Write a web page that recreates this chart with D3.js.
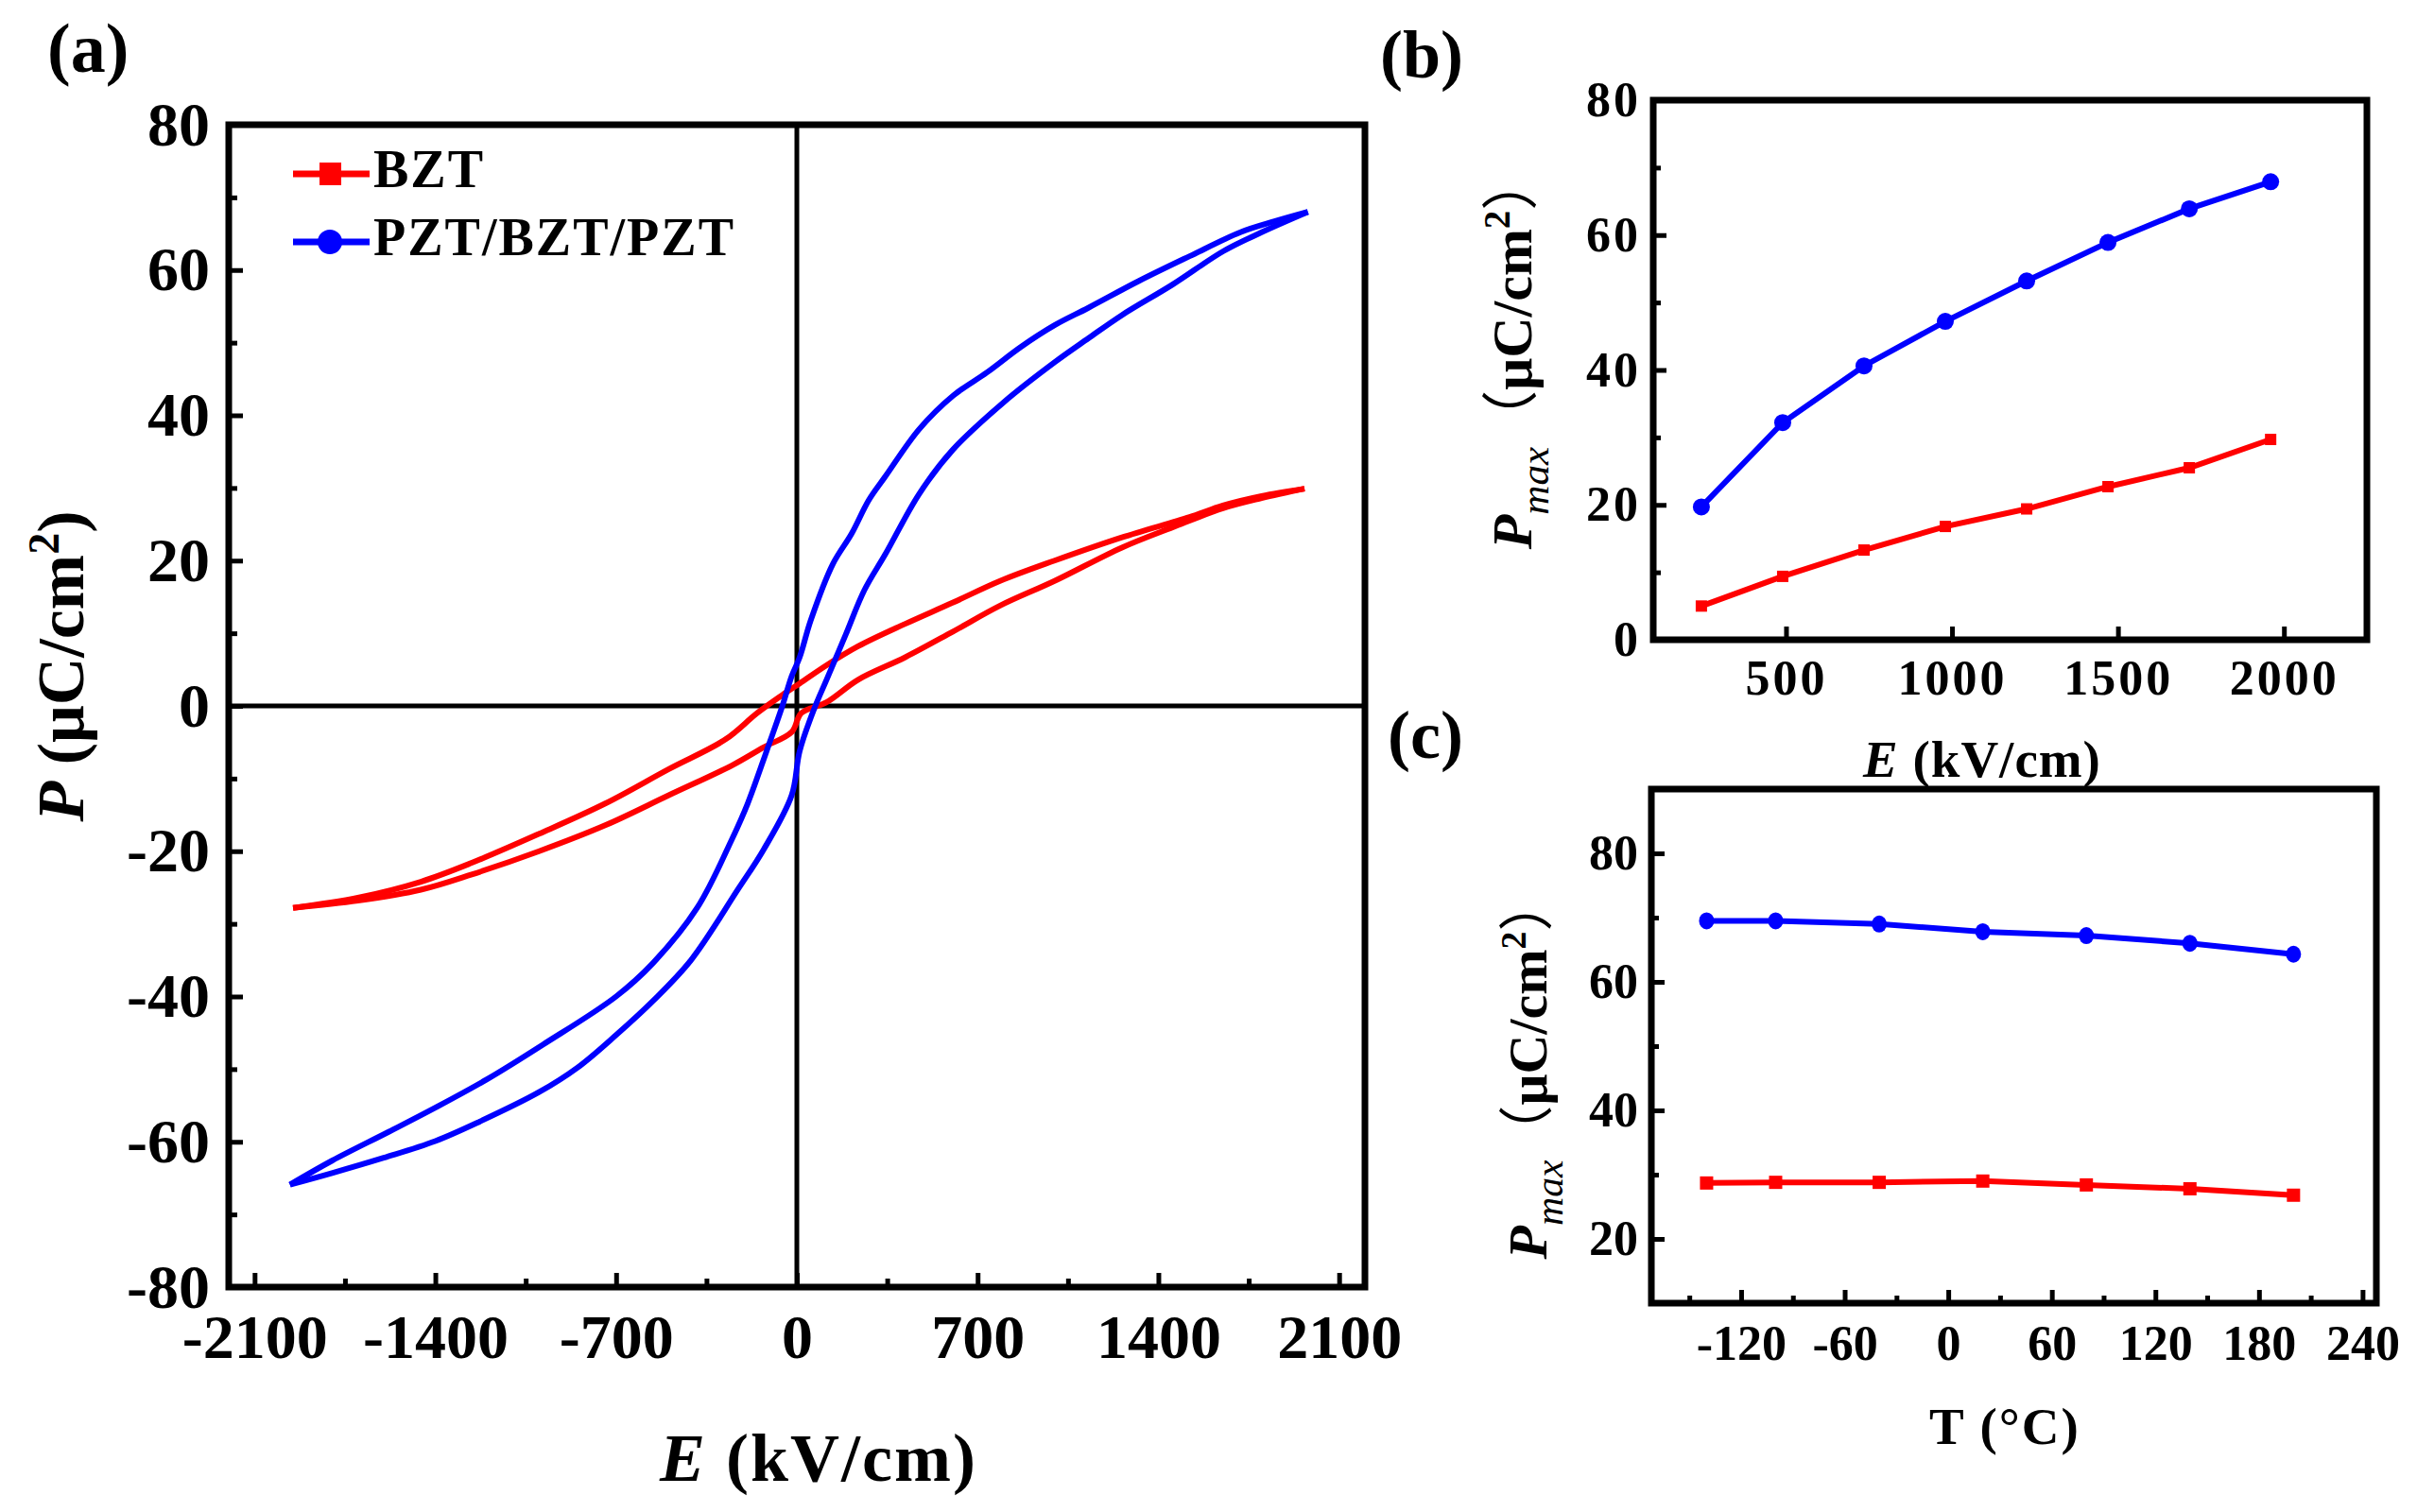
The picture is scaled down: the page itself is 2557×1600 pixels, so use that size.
<!DOCTYPE html>
<html><head><meta charset="utf-8">
<script src="https://cdn.jsdelivr.net/npm/d3@7"></script>
<style>body{margin:0;background:#fff}svg{display:block}text{font-family:"Liberation Serif","Times New Roman",serif;font-weight:bold}</style>
</head><body><svg id="c" width="2557" height="1600"></svg>
<script>
// ---------- DATA ----------
// (a) P-E hysteresis loops
const bztAscE  = [-1951,-1700,-1456,-1259,-998,-740,-496,-252,-129,-20,17,115,237,420,603,787,998,1259,1456,1650,1800,1966];
const bztAscP  = [-27.8,-26.8,-25.3,-23.2,-20,-16.4,-12.3,-8.2,-5.7,-3.6,-1,0.5,3.6,6.7,10.2,13.8,17.2,21.8,24.6,27.2,28.6,29.9];
const bztDescE = [1966,1800,1650,1521,1259,998,787,603,420,237,115,11,-56,-154,-276,-496,-740,-998,-1259,-1456,-1700,-1951];
const bztDescP = [29.9,28.9,27.6,26,23.2,20,17.2,14.2,11.3,8.2,5.6,3.1,1.5,-1,-4.6,-8.7,-13.4,-17.6,-21.6,-24.2,-26.4,-27.8];
const pbpAscE  = [-1963,-1800,-1600,-1400,-1227,-1000,-850,-700,-557,-410,-227,-129,-20,11,66,115,188,261,343,474,605,801,998,1129,1259,1455,1652,1800,1979];
const pbpAscP  = [-65.9,-64.3,-62.2,-59.9,-57.2,-53.2,-49.8,-45.3,-40.6,-35,-25.2,-19.8,-12.3,-6.2,-0.5,3.6,9.7,15.9,20.9,29.2,35.3,41.8,47.3,50.6,53.8,58,62.6,65.2,68];
const pbpDescE = [1979,1850,1718,1521,1325,1129,998,867,736,605,474,343,278,212,139,54,11,-20,-56,-117,-190,-252,-386,-557,-700,-982,-1200,-1400,-1579,-1800,-1963];
const pbpDescP = [68,66.7,65.2,61.9,58.5,54.8,52.4,49.4,45.9,42.7,38.1,31.6,28.3,23.7,19.5,11.8,6.7,4.1,0,-6.2,-13.4,-18.4,-27.8,-35.4,-40,-46.6,-51.4,-55.3,-58.6,-62.6,-65.9];
// (b) Pmax vs E
const pmaxE    = [245,490,735,980,1225,1470,1715,1960];
const pmaxBZT  = [5.0,9.4,13.3,16.8,19.4,22.7,25.5,29.7];
const pmaxPBP  = [19.7,32.2,40.6,47.2,53.2,58.9,63.9,67.9];
// (c) Pmax vs T
const tempT    = [-140,-100,-40,20,80,140,200];
const tempBZT  = [28.7,28.8,28.8,29.0,28.4,27.8,26.8];
const tempPBP  = [69.5,69.5,69.0,67.8,67.2,66.0,64.3];
// ticks
const aXTicks = [-2100,-1400,-700,0,700,1400,2100];
const aXMinor = [-1750,-1050,-350,350,1050,1750];
const aYTicks = [-80,-60,-40,-20,0,20,40,60,80];
const aYMinor = [-70,-50,-30,-10,10,30,50,70];
const bXTicks = [500,1000,1500,2000];
const bYTicks = [0,20,40,60,80];
const bYMinor = [10,30,50,70];
const cXTicks = [-120,-60,0,60,120,180,240];
const cXMinor = [-150,-90,-30,30,90,150,210];
const cYTicks = [20,40,60,80];
const cYMinor = [30,50,70];
const legendNames = ["BZT","PZT/BZT/PZT"];

const RED="#ff0000", BLUE="#0000ff";
const fmt = d => String(d);   // plain hyphen minus, as in the reference
const svg=d3.select("#c");
svg.append("rect").attr("width",2557).attr("height",1600).attr("fill","#fff");

function panel(o){
  const g=svg.append("g");
  const x=d3.scaleLinear().domain(o.xd).range([o.l,o.r]);
  const y=d3.scaleLinear().domain(o.yd).range([o.b,o.t]);
  const fx=g.append("g").attr("transform",`translate(0,${o.b})`)
    .call(d3.axisBottom(x).tickValues(o.xt).tickSize(-o.maj).tickPadding(o.xpad).tickFormat(fmt));
  fx.selectAll("text").style("font-size",o.fs+"px");
  if(o.xm) g.append("g").attr("transform",`translate(0,${o.b})`)
    .call(d3.axisBottom(x).tickValues(o.xm).tickSize(-o.min).tickFormat(""));
  const fy=g.append("g").attr("transform",`translate(${o.l},0)`)
    .call(d3.axisLeft(y).tickValues(o.yt).tickSize(-o.maj).tickPadding(o.ypad).tickFormat(fmt));
  fy.selectAll("text").style("font-size",o.fs+"px");
  if(o.ym) g.append("g").attr("transform",`translate(${o.l},0)`)
    .call(d3.axisLeft(y).tickValues(o.ym).tickSize(-o.min).tickFormat(""));
  g.selectAll(".domain").remove();
  g.selectAll(".tick line").attr("stroke","#000").attr("stroke-width",5);
  g.selectAll(".tick text").attr("fill","#000");
  return {g,x,y};
}
function frame(o){
  svg.append("rect").attr("x",o.l).attr("y",o.t).attr("width",o.r-o.l).attr("height",o.b-o.t)
    .attr("fill","none").attr("stroke","#000").attr("stroke-width",7);
}

// ---------- (a) ----------
const A={l:242,r:1444,t:132,b:1362,xd:[-2200,2200],yd:[-80,80],xt:aXTicks,xm:aXMinor,yt:aYTicks,ym:aYMinor,maj:15,min:9,fs:66,xpad:28,ypad:20};
const pa=panel(A);
pa.g.append("line").attr("x1",A.l).attr("x2",A.r).attr("y1",pa.y(0)).attr("y2",pa.y(0)).attr("stroke","#000").attr("stroke-width",5);
pa.g.append("line").attr("x1",pa.x(0)).attr("x2",pa.x(0)).attr("y1",A.t).attr("y2",A.b).attr("stroke","#000").attr("stroke-width",5);
const lineA=d3.line().x(d=>pa.x(d[0])).y(d=>pa.y(d[1])).curve(d3.curveCatmullRom.alpha(0.5));
const zipA=(e,p)=>e.map((v,i)=>[v,p[i]]);
[[bztAscE,bztAscP,RED],[bztDescE,bztDescP,RED],[pbpAscE,pbpAscP,BLUE],[pbpDescE,pbpDescP,BLUE]].forEach(([e,p,c])=>{
  pa.g.append("path").attr("d",lineA(zipA(e,p))).attr("fill","none").attr("stroke",c).attr("stroke-width",6).attr("stroke-linejoin","round");
});
frame(A);
// legend
const leg=svg.append("g");
[[184,RED,"sq"],[256,BLUE,"ci"]].forEach(([yy,c,m],i)=>{
  leg.append("line").attr("x1",310).attr("x2",391).attr("y1",yy).attr("y2",yy).attr("stroke",c).attr("stroke-width",7);
  if(m==="sq") leg.append("rect").attr("x",338).attr("y",yy-12).attr("width",23).attr("height",24).attr("fill",c);
  else leg.append("circle").attr("cx",349).attr("cy",yy).attr("r",13).attr("fill",c);
  leg.append("text").attr("x",395).attr("y",yy+14).style("font-size","56px").style("letter-spacing","2px").text(legendNames[i]);
});
svg.append("text").attr("x",50).attr("y",76).style("font-size","74px").text("(a)");
// axis titles (a)
svg.append("text").attr("x",866).attr("y",1567).attr("text-anchor","middle").style("font-size","72px").style("letter-spacing","2px")
  .call(t=>{t.append("tspan").style("font-style","italic").text("E");t.append("tspan").text(" (kV/cm)");});
svg.append("text").attr("transform","translate(88,705) rotate(-90)").attr("text-anchor","middle").style("font-size","70px")
  .call(t=>{t.append("tspan").style("font-style","italic").text("P");t.append("tspan").text(" (μC/cm");
    t.append("tspan").attr("dy",-26).style("font-size","46px").text("2");t.append("tspan").attr("dy",26).text(")");});

// ---------- (b) ----------
const B={l:1749,r:2504,t:106,b:677,xd:[100,2250],yd:[0,80],xt:bXTicks,xm:null,yt:bYTicks,ym:bYMinor,maj:14,min:8,fs:52,xpad:21,ypad:13};
const pb=panel(B);
pb.g.selectAll(".tick text").style("letter-spacing","3px");
const lineB=d3.line().x(d=>pb.x(d[0])).y(d=>pb.y(d[1]));
pb.g.append("path").attr("d",lineB(pmaxE.map((v,i)=>[v,pmaxBZT[i]]))).attr("fill","none").attr("stroke",RED).attr("stroke-width",6);
pb.g.append("path").attr("d",lineB(pmaxE.map((v,i)=>[v,pmaxPBP[i]]))).attr("fill","none").attr("stroke",BLUE).attr("stroke-width",6);
pb.g.selectAll(".mr").data(pmaxE).join("rect").attr("x",d=>pb.x(d)-6).attr("y",(d,i)=>pb.y(pmaxBZT[i])-6).attr("width",12).attr("height",12).attr("fill",RED);
pb.g.selectAll(".mb").data(pmaxE).join("circle").attr("cx",d=>pb.x(d)).attr("cy",(d,i)=>pb.y(pmaxPBP[i])).attr("r",9).attr("fill",BLUE);
frame(B);
svg.append("text").attr("x",1460).attr("y",82).style("font-size","72px").text("(b)");
svg.append("text").attr("x",2097).attr("y",822).attr("text-anchor","middle").style("font-size","55px").style("letter-spacing","1px")
  .call(t=>{t.append("tspan").style("font-style","italic").text("E");t.append("tspan").text(" (kV/cm)");});
function pmaxLabel(x,y,fs){
  svg.append("text").attr("transform",`translate(${x},${y}) rotate(-90)`).attr("text-anchor","middle").style("font-size",fs+"px")
  .call(t=>{t.append("tspan").style("font-style","italic").text("P");
    t.append("tspan").attr("dy",fs*0.3).style("font-style","italic").style("font-weight","normal").style("font-size",(fs*0.72)+"px").text("max");
    t.append("tspan").attr("dy",-fs*0.3).style("font-family","'Noto Sans CJK SC'").style("font-weight","normal").text("（");
    t.append("tspan").text("μC/cm");
    t.append("tspan").attr("dy",-fs*0.38).style("font-size",(fs*0.65)+"px").text("2");
    t.append("tspan").attr("dy",fs*0.38).style("font-family","'Noto Sans CJK SC'").style("font-weight","normal").text("）");});
}
pmaxLabel(1620,372,60);

// ---------- (c) ----------
const C={l:1747,r:2514,t:835,b:1379,xd:[-172,248],yd:[10,90],xt:cXTicks,xm:cXMinor,yt:cYTicks,ym:cYMinor,maj:14,min:8,fs:52,xpad:23,ypad:14};
const pc=panel(C);
const lineC=d3.line().x(d=>pc.x(d[0])).y(d=>pc.y(d[1]));
pc.g.append("path").attr("d",lineC(tempT.map((v,i)=>[v,tempBZT[i]]))).attr("fill","none").attr("stroke",RED).attr("stroke-width",6);
pc.g.append("path").attr("d",lineC(tempT.map((v,i)=>[v,tempPBP[i]]))).attr("fill","none").attr("stroke",BLUE).attr("stroke-width",6);
pc.g.selectAll(".mr").data(tempT).join("rect").attr("x",d=>pc.x(d)-7).attr("y",(d,i)=>pc.y(tempBZT[i])-7).attr("width",14).attr("height",14).attr("fill",RED);
pc.g.selectAll(".mb").data(tempT).join("ellipse").attr("cx",d=>pc.x(d)).attr("cy",(d,i)=>pc.y(tempPBP[i])).attr("rx",8).attr("ry",9).attr("fill",BLUE);
frame(C);
svg.append("text").attr("x",1468).attr("y",802).style("font-size","72px").text("(c)");
svg.append("text").attr("x",2121).attr("y",1528).attr("text-anchor","middle").style("font-size","55px").style("letter-spacing","2px").text("T (°C)");
pmaxLabel(1636,1130,58);
</script></body></html>
